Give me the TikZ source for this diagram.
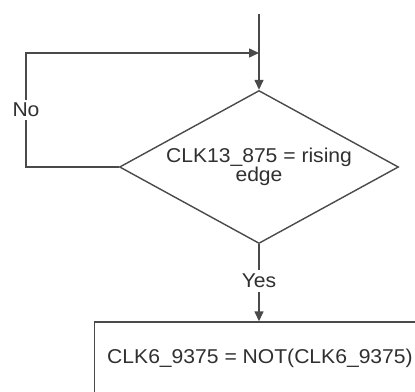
\documentclass[tikz,border=0pt]{standalone}
\usepackage{fontspec}
\setmainfont{Liberation Sans}[FakeStretch=1.055]
\usetikzlibrary{shapes.geometric,arrows.meta}
\definecolor{linec}{HTML}{4a4a4a}
\definecolor{textc}{HTML}{303030}
\begin{document}
\begin{tikzpicture}[x=1pt,y=-1pt,
  conn/.style={draw=linec,line width=1.4pt},
  arr/.style={conn,-{Triangle[length=10pt,width=9pt]}},
  txt/.style={text=textc,font=\fontsize{20}{18}\selectfont},
  lbl/.style={txt,inner sep=0pt,minimum height=20pt}
]
\path[use as bounding box,clip] (0,0) rectangle (415,391);
\fill[white] (0,0) rectangle (415,391);
\coordinate (top) at (259,14);
\coordinate (join) at (259,53);
\node[diamond,draw=linec,line width=1.4pt,txt,align=center,inner sep=0pt,
  shape aspect=1.82,minimum width=279pt,minimum height=153pt] (d) at (259,167)
  {CLK13\_875 = rising\\edge};
\node[lbl] (no) at (26,110) {No};
\node[lbl,minimum height=22pt] (yes) at (259,281) {Yes};
\node[draw=linec,line width=1.4pt,txt,minimum width=331pt,minimum height=72pt,inner sep=0pt] (box) at (260,358)
  {CLK6\_9375 = NOT(CLK6\_9375)};
\draw[arr] (top) -- (d.north);
\draw[conn] (d.west) -| (no.south);
\draw[arr] (no.north) |- (join);
\draw[conn] (d.south) -- (yes.north);
\draw[arr] (yes.south) -- (yes.south |- box.north);
\end{tikzpicture}
\end{document}
